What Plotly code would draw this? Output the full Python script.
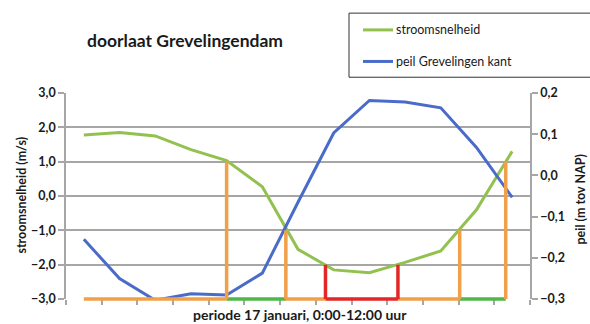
import plotly.graph_objects as go

# Uurwaarden 17 januari, 0:00 t/m 12:00
uren = list(range(13))
stroomsnelheid = [1.78, 1.85, 1.75, 1.35, 1.03, 0.27, -1.55, -2.15, -2.23, -1.93, -1.60, -0.40, 1.30]
peil = [-0.155, -0.250, -0.303, -0.287, -0.290, -0.237, -0.065, 0.103, 0.182, 0.178, 0.164, 0.068, -0.053]

# Tijdstippen (uur) waarop de stroomsnelheid een grenswaarde passeert
grens_tijden = [0.0, 4.0, 5.66, 6.77, 8.8, 10.53, 11.82]
grens_niveaus = [1.0, -1.0, -2.0, -2.0, -1.0, 1.0]
band_kleuren = ["#F0A048", "#4DB848", "#F0A048", "#E32626", "#F0A048", "#4DB848"]
lijn_kleuren = ["#F0A048", "#F0A048", "#E32626", "#E32626", "#F0A048", "#F0A048"]

FONT = "Lato"
GRIJS = "#A6A6A6"
TEKST = "#1a1a1a"

# Plotgebied in pixels
W, H = 590, 324
L, R, T, B = 66, 60, 93, 16
EXTRA = 6                      # ruimte onder de as zodat de periodebalk niet wordt afgekapt
ph = H - T - B                 # hoogte inclusief extra strook
d0 = EXTRA / ph                # onderkant domein van de hoofdassen
px_per_eenheid = (ph - EXTRA) / 6.0
y3_min = -3 - EXTRA / px_per_eenheid

fig = go.Figure()

fig.add_trace(go.Scatter(x=uren, y=stroomsnelheid, mode="lines", name="stroomsnelheid",
                         line=dict(color="#92C150", width=3), yaxis="y", showlegend=False))
fig.add_trace(go.Scatter(x=uren, y=peil, mode="lines", name="peil Grevelingen kant",
                         line=dict(color="#4A6CC8", width=3), yaxis="y2", showlegend=False))

# Periodebalk onderaan en grensmarkeringen
bodem = -3.0
for i, kleur in enumerate(band_kleuren):
    fig.add_trace(go.Scatter(x=[grens_tijden[i], grens_tijden[i + 1]], y=[bodem, bodem],
                             mode="lines", line=dict(color=kleur, width=3.5),
                             yaxis="y3", showlegend=False, hoverinfo="skip"))
for t, niveau, kleur in zip(grens_tijden[1:], grens_niveaus, lijn_kleuren):
    fig.add_trace(go.Scatter(x=[t, t], y=[bodem, niveau], mode="lines",
                             line=dict(color=kleur, width=3.5),
                             yaxis="y3", showlegend=False, hoverinfo="skip"))

tickfont = dict(family=FONT, size=12.5, color=TEKST, weight="bold")

fig.update_layout(
    width=W, height=H,
    margin=dict(l=L, r=R, t=T, b=B),
    paper_bgcolor="white", plot_bgcolor="rgba(0,0,0,0)",
    separators=",.",
    xaxis=dict(range=[-0.5, 12.5], tickmode="array",
               tickvals=[k - 0.5 for k in range(14)], showticklabels=False,
               ticks="outside", ticklen=5, tickcolor=GRIJS, tickwidth=1.5,
               showgrid=False, showline=False, zeroline=False, anchor="y"),
    yaxis=dict(range=[-3, 3], dtick=1, tick0=-3, tickformat=".1f", domain=[d0, 1],
               showgrid=True, gridcolor=GRIJS, gridwidth=1.5,
               showline=True, linecolor=GRIJS, linewidth=1.5,
               ticks="outside", ticklen=6, tickcolor=GRIJS, tickwidth=1.5,
               zeroline=False, tickfont=tickfont),
    yaxis2=dict(range=[-0.3, 0.2], dtick=0.1, tick0=-0.3, tickformat=".1f",
                overlaying="y", side="right", showgrid=False,
                showline=True, linecolor=GRIJS, linewidth=1.5,
                ticks="outside", ticklen=6, tickcolor=GRIJS, tickwidth=1.5,
                zeroline=False, tickfont=tickfont),
    yaxis3=dict(range=[y3_min, 3], domain=[0, 1], anchor="x", visible=False,
                showgrid=False),
    showlegend=False,
)

# Paper-coördinaten uit pixelposities
def px_x(p):
    return (p - L) / (W - L - R)

def px_y(p):
    return (H - B - p) / ph

def label(tekst, x, y, size, bold=True, angle=0, xanchor="center"):
    fig.add_annotation(text=tekst, xref="paper", yref="paper", x=px_x(x), y=px_y(y),
                       xanchor=xanchor, yanchor="middle", textangle=angle, showarrow=False,
                       font=dict(family=FONT, size=size, color=TEKST,
                                 weight="bold" if bold else "normal"))

# Titel en astitels
label("doorlaat Grevelingendam", 184.5, 40, 17.5)
label("stroomsnelheid (m/s)", 22, 197, 12.5, angle=-90)
label("peil (m tov NAP)", 580, 201, 12.5, angle=-90)
label("periode 17 januari, 0:00-12:00 uur", 300, 318, 14)

# Legenda in een kader rechtsboven
fig.add_shape(type="rect", xref="paper", yref="paper",
              x0=px_x(349), x1=px_x(600), y0=px_y(77), y1=px_y(12),
              line=dict(color="#333333", width=1), fillcolor="white")
legenda = [("stroomsnelheid", "#92C150", 29), ("peil Grevelingen kant", "#4A6CC8", 61)]
for naam, kleur, ypos in legenda:
    fig.add_shape(type="line", xref="paper", yref="paper",
                  x0=px_x(363), x1=px_x(393), y0=px_y(ypos), y1=px_y(ypos),
                  line=dict(color=kleur, width=3))
    label(naam, 394, ypos, 12.5, bold=False, xanchor="left")

fig.write_html("out.html")
